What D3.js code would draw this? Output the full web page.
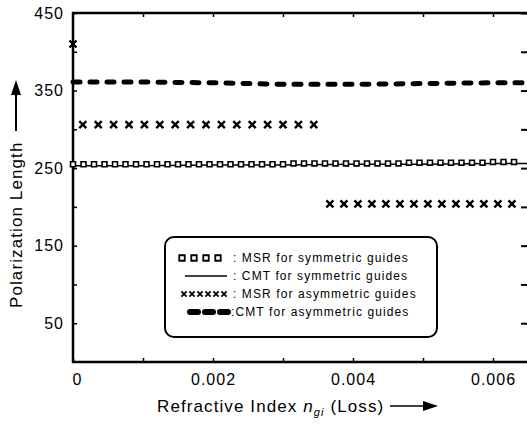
<!DOCTYPE html>
<html>
<head>
<meta charset="utf-8">
<script src="https://cdn.jsdelivr.net/npm/d3@7"></script>
<style>
  body { margin: 0; background: #fff; }
  svg { font-family: Arial, "Liberation Sans", sans-serif; }
</style>
</head>
<body>
<div id="graphicContainer"></div>
<script>
// MSR, symmetric guides (open markers)
var msrSymX = [0, 0.00015, 0.0003, 0.00045, 0.0006, 0.00075, 0.0009, 0.00105, 0.0012, 0.00135,
  0.0015, 0.00165, 0.0018, 0.00195, 0.0021, 0.00225, 0.0024, 0.00255, 0.0027, 0.00285,
  0.003, 0.00315, 0.0033, 0.00345, 0.0036, 0.00375, 0.0039, 0.00405, 0.0042, 0.00435,
  0.0045, 0.00465, 0.0048, 0.00495, 0.0051, 0.00525, 0.0054, 0.00555, 0.0057, 0.00585,
  0.006, 0.00615, 0.0063]
var msrSymY = [255, 255, 255, 255, 255, 255, 255, 255, 255, 255,
  255, 255, 255, 255, 255, 255, 255, 255, 255, 255,
  255, 256, 256, 256, 256, 256, 256, 256, 256, 256,
  256, 256, 257, 257, 257, 257, 257, 257, 257, 257,
  258, 258, 258]

// CMT, symmetric guides (solid line)
var cmtSymX = [0, 0.001, 0.002, 0.003, 0.004, 0.005, 0.006, 0.0065]
var cmtSymY = [253, 253, 254, 254, 255, 255, 256, 256]

// MSR, asymmetric guides (crosses)
var msrAsymX = [0, 0.00014, 0.00036, 0.00058, 0.0008, 0.00102, 0.00124, 0.00146, 0.00168, 0.0019,
  0.00212, 0.00234, 0.00256, 0.00278, 0.003, 0.00322, 0.00344,
  0.00367, 0.00387, 0.00407, 0.00427, 0.00447, 0.00467, 0.00487, 0.00507, 0.00527, 0.00547,
  0.00567, 0.00587, 0.00607, 0.00627]
var msrAsymY = [410, 306, 306, 306, 306, 306, 306, 306, 306, 306,
  306, 306, 306, 306, 306, 306, 306,
  204, 204, 204, 204, 204, 204, 204, 204, 204, 204,
  204, 204, 204, 204]

// CMT, asymmetric guides (thick dashed line)
var cmtAsymX = [0, 0.001, 0.002, 0.003, 0.004, 0.005, 0.006, 0.0065]
var cmtAsymY = [361, 361, 360, 358, 358, 359, 360, 360]

var xTicks = [0, 0.001, 0.002, 0.003, 0.004, 0.005, 0.006]
var xLabels = [0, 0.002, 0.004, 0.006]
var yTicks = [50, 100, 150, 200, 250, 300, 350, 400, 450]
var yLabels = [50, 150, 250, 350, 450]

var legendItems = [
  ": MSR for symmetric guides",
  ": CMT for symmetric guides",
  ": MSR for asymmetric guides",
  ":CMT for asymmetric guides"
]

var width = 527, height = 424
var svg = d3.select("#graphicContainer").append("svg")
  .attr("width", width)
  .attr("height", height)

var x = d3.scaleLinear().domain([0, 0.0065]).range([73, 528])
var y = d3.scaleLinear().domain([0, 450]).range([362, 13])

function toPoints(xs, ys) {
  return xs.map(function (d, i) { return { x: d, y: ys[i] } })
}

var crossPath = "M-3.5,-3.5L3.5,3.5M-3.5,3.5L3.5,-3.5"

// frame
svg.append("line").attr("x1", x(0)).attr("x2", x(0)).attr("y1", y(450) - 1).attr("y2", y(0) + 1)
  .attr("stroke", "#000").attr("stroke-width", 2.5)
svg.append("line").attr("x1", x(0) - 1).attr("x2", 528).attr("y1", y(0)).attr("y2", y(0))
  .attr("stroke", "#000").attr("stroke-width", 2.5)
svg.append("line").attr("x1", x(0) - 1).attr("x2", 528).attr("y1", y(450)).attr("y2", y(450))
  .attr("stroke", "#000").attr("stroke-width", 2.5)

// x axis (bottom, ticks inward)
var xAxis = d3.axisBottom(x).tickValues(xTicks).tickSizeInner(-4).tickSizeOuter(0).tickPadding(12)
  .tickFormat(function (d) { return xLabels.indexOf(d) > -1 ? (d === 0 ? "0" : d3.format(".3f")(d)) : "" })
var gx = svg.append("g").attr("transform", "translate(0," + y(0) + ")").call(xAxis)
gx.select(".domain").remove()
gx.selectAll("line").attr("stroke-width", 1.5)
gx.selectAll("text").attr("font-size", 16).attr("letter-spacing", 1).attr("fill", "#000")
gx.selectAll(".tick").filter(function (d) { return d === 0 }).select("text").attr("dx", 4)

// top axis
var xTop = d3.axisTop(x).tickValues(xTicks.slice(1)).tickSizeInner(-4).tickSizeOuter(0).tickFormat("")
var gt = svg.append("g").attr("transform", "translate(0," + y(450) + ")").call(xTop)
gt.select(".domain").remove()
gt.selectAll("line").attr("stroke-width", 1.5)

// y axis (left, ticks inward)
var yAxis = d3.axisLeft(y).tickValues(yTicks).tickSizeInner(-4).tickSizeOuter(0).tickPadding(9)
  .tickFormat(function (d) { return yLabels.indexOf(d) > -1 ? d : "" })
var gy = svg.append("g").attr("transform", "translate(" + x(0) + ",0)").call(yAxis)
gy.select(".domain").remove()
gy.selectAll("line").attr("stroke-width", 1.5)
gy.selectAll("text").attr("font-size", 16).attr("letter-spacing", 1).attr("fill", "#000")

// right axis ticks
var yRight = d3.axisRight(y).tickValues(yTicks).tickSizeInner(-6).tickSizeOuter(0).tickFormat("")
var gr = svg.append("g").attr("transform", "translate(527,0)").call(yRight)
gr.select(".domain").remove()
gr.selectAll("line").attr("stroke-width", 2)

var line = d3.line().x(function (d) { return x(d.x) }).y(function (d) { return y(d.y) })

// CMT asymmetric dashed
svg.append("path").datum(toPoints(cmtAsymX, cmtAsymY))
  .attr("d", line).attr("fill", "none").attr("stroke", "#000")
  .attr("stroke-width", 5).attr("stroke-dasharray", "7,10").attr("stroke-linecap", "round")

// CMT symmetric solid
svg.append("path").datum(toPoints(cmtSymX, cmtSymY))
  .attr("d", line).attr("fill", "none").attr("stroke", "#000").attr("stroke-width", 1.5)

// MSR symmetric open markers
svg.selectAll(".msrSym").data(toPoints(msrSymX, msrSymY)).enter().append("path")
  .attr("class", "msrSym")
  .attr("transform", function (d) { return "translate(" + x(d.x) + "," + y(d.y) + ")" })
  .attr("d", d3.symbol().type(d3.symbolSquare).size(24))
  .attr("fill", "#fff").attr("stroke", "#000").attr("stroke-width", 1.6)

// MSR asymmetric crosses
svg.selectAll(".msrAsym").data(toPoints(msrAsymX, msrAsymY)).enter().append("path")
  .attr("class", "msrAsym")
  .attr("transform", function (d) { return "translate(" + x(d.x) + "," + y(d.y) + ")" })
  .attr("d", crossPath)
  .attr("fill", "none").attr("stroke", "#000").attr("stroke-width", 2.4)

// legend
var legend = svg.append("g")
legend.append("rect").attr("x", 165).attr("y", 237).attr("width", 272).attr("height", 100)
  .attr("rx", 9).attr("fill", "#fff").attr("stroke", "#000").attr("stroke-width", 2)

var rowY = [258, 276, 294, 312]
legend.selectAll(".legText").data(legendItems).enter().append("text")
  .attr("x", function (d, i) { return i === 3 ? 231 : 233 })
  .attr("y", function (d, i) { return rowY[i] + 4 })
  .attr("font-size", 12).attr("letter-spacing", 1.1)
  .text(function (d) { return d })

var legX = [182, 194, 206, 218]
legend.selectAll(".legSym").data(legX).enter().append("path")
  .attr("transform", function (d) { return "translate(" + d + "," + rowY[0] + ")" })
  .attr("d", d3.symbol().type(d3.symbolSquare).size(30))
  .attr("fill", "#fff").attr("stroke", "#000").attr("stroke-width", 1.8)
legend.append("line").attr("x1", 185).attr("x2", 227).attr("y1", rowY[1]).attr("y2", rowY[1])
  .attr("stroke", "#000").attr("stroke-width", 1.5)
legend.selectAll(".legCross").data([184, 192, 200, 208, 216, 224]).enter().append("path")
  .attr("transform", function (d) { return "translate(" + d + "," + rowY[2] + ") scale(0.75)" })
  .attr("d", crossPath)
  .attr("fill", "none").attr("stroke", "#000").attr("stroke-width", 2.4)
legend.append("line").attr("x1", 190).attr("x2", 228).attr("y1", rowY[3]).attr("y2", rowY[3])
  .attr("stroke", "#000").attr("stroke-width", 6).attr("stroke-dasharray", "8,7").attr("stroke-linecap", "round")

// y label with arrow
svg.append("text")
  .attr("transform", "translate(22,308) rotate(-90)")
  .attr("font-size", 17).attr("letter-spacing", 1.1)
  .text("Polarization Length")
svg.append("line").attr("x1", 16).attr("x2", 16).attr("y1", 131).attr("y2", 92)
  .attr("stroke", "#000").attr("stroke-width", 2)
svg.append("path").attr("d", "M16,80 L11,95 L21,95 Z").attr("fill", "#000")

// x label with arrow
var xl = svg.append("text").attr("x", 157).attr("y", 412).attr("font-size", 17).attr("letter-spacing", 1.1)
xl.append("tspan").text("Refractive Index ")
xl.append("tspan").attr("font-style", "italic").text("n")
xl.append("tspan").attr("font-style", "italic").attr("font-size", 11).attr("dy", 4).text("gi")
xl.append("tspan").attr("dy", -4).text(" (Loss)")
svg.append("line").attr("x1", 390).attr("x2", 425).attr("y1", 406).attr("y2", 406)
  .attr("stroke", "#000").attr("stroke-width", 1.5)
svg.append("path").attr("d", "M438,406 L423,401 L423,411 Z").attr("fill", "#000")
</script>
</body>
</html>
